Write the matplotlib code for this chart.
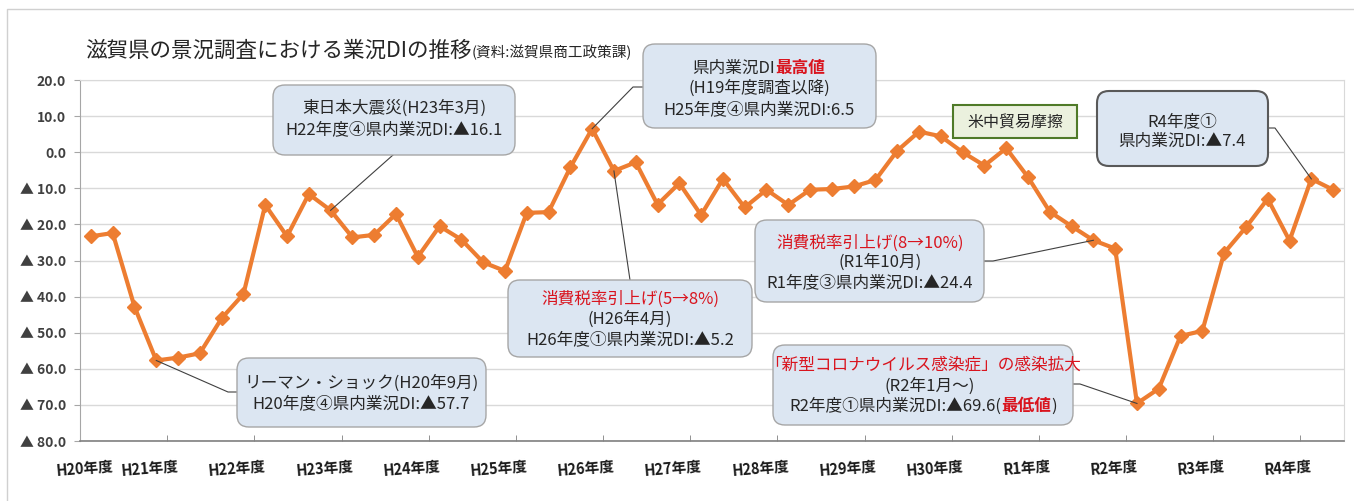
import matplotlib.pyplot as plt
import matplotlib.transforms as mtransforms
from matplotlib.patches import FancyBboxPatch
from matplotlib.lines import Line2D

plt.rcParams['font.family'] = ['Noto Sans CJK JP', 'DejaVu Sans']

# 業況DI（四半期） H20年度①〜R4年度②
di = [-23.3, -22.4, -42.8, -57.7,   # H20
      -56.9, -55.7, -46.0, -39.3,   # H21
      -14.6, -23.3, -11.6, -16.1,   # H22
      -23.6, -22.9, -17.1, -29.0,   # H23
      -20.5, -24.2, -30.5, -32.9,   # H24
      -16.8, -16.6, -4.2, 6.5,      # H25
      -5.2, -2.8, -14.5, -8.6,      # H26
      -17.4, -7.4, -15.3, -10.4,    # H27
      -14.6, -10.4, -10.2, -9.5,    # H28
      -7.7, 0.4, 5.7, 4.4,          # H29
      0.0, -3.7, 1.1, -6.9,         # H30
      -16.5, -20.5, -24.4, -26.7,   # R1
      -69.6, -65.5, -50.9, -49.5,   # R2
      -27.9, -20.8, -12.9, -24.5,   # R3
      -7.4, -10.4]                  # R4

years = ['H20年度', 'H21年度', 'H22年度', 'H23年度', 'H24年度', 'H25年度',
         'H26年度', 'H27年度', 'H28年度', 'H29年度', 'H30年度',
         'R1年度', 'R2年度', 'R3年度', 'R4年度']
yticks = [20, 10, 0, -10, -20, -30, -40, -50, -60, -70, -80]
ytick_labels = ['20.0', '10.0', '0.0', '▲ 10.0', '▲ 20.0', '▲ 30.0', '▲ 40.0',
                '▲ 50.0', '▲ 60.0', '▲ 70.0', '▲ 80.0']

W, H = 1354, 501
fig = plt.figure(figsize=(W / 100, H / 100), dpi=100)
px = mtransforms.Affine2D().scale(1 / fig.dpi) + fig.dpi_scale_trans
renderer = fig.canvas.get_renderer()

BLACK = '#262626'
RED = '#d9141e'

ax = fig.add_axes([80 / W, 1 - 441 / H, (1344 - 80) / W, (441 - 80) / H])
ax.plot(range(len(di)), di, color='#ED7D31', lw=3, marker='D', ms=7, zorder=3)
ax.set_xlim(-0.5, len(di) - 0.5)
ax.set_ylim(-80, 20)
ax.set_yticks(yticks, ytick_labels)
ax.grid(axis='y', color='#d9d9d9', lw=1)
ax.set_axisbelow(True)
for s in ['top', 'right']:
    ax.spines[s].set_color('#d9d9d9')
ax.spines['left'].set_color('#a6a6a6')
ax.spines['bottom'].set_color('#808080')
ax.spines['bottom'].set_linewidth(1.2)
ax.tick_params(axis='y', direction='out', length=4, color='#a6a6a6', pad=6,
               labelsize=10, labelcolor='#404040')
for lab in ax.get_yticklabels():
    lab.set_fontweight('bold')

label_pos = [1] + list(range(4, len(di), 4))
ax.set_xticks(label_pos, years)
ax.set_xticks([i - 0.5 for i in range(4, len(di), 4)], minor=True)
ax.tick_params(axis='x', which='major', length=0, pad=12, labelsize=10.5, labelcolor='#1a1a1a')
ax.tick_params(axis='x', which='minor', direction='in', length=4, color='#808080')
for lab in ax.get_xticklabels():
    lab.set_rotation(5)
    lab.set_ha('right')
    lab.set_va('top')
    lab.set_rotation_mode('anchor')
    lab.set_fontweight('bold')

# outer frame
fig.add_artist(Line2D([7, 7, W], [0, H - 9, H - 9], transform=px, color='#d0d0d0', lw=1))


def line(x, yc, parts, ha='center'):
    # parts: (text, color, size, weight)
    texts = []
    for s, c, size, wt in parts:
        t = fig.text(0, 0, s, color=c, fontsize=size, fontweight=wt, transform=px,
                     ha='left', va='baseline', zorder=6)
        texts.append(t)
    widths = [t.get_window_extent(renderer).width for t in texts]
    big = max(p[2] for p in parts) * fig.dpi / 72
    yb = H - (yc + 0.37 * big)
    x0 = x - sum(widths) / 2 if ha == 'center' else x
    for t, w in zip(texts, widths):
        t.set_position((x0, yb))
        x0 += w


def box(x0, y0, x1, y1, fc='#dce6f2', ec='#a6a6a6', lw=1, rounded=True):
    style = 'round,pad=0,rounding_size=12' if rounded else 'square,pad=0'
    fig.add_artist(FancyBboxPatch((x0, H - y1), x1 - x0, y1 - y0, boxstyle=style,
                                  transform=px, fc=fc, ec=ec, lw=lw, zorder=5))


def leader(pts, idx):
    xd, yd = ax.transData.transform((idx, di[idx]))
    xs = [p[0] for p in pts] + [xd]
    ys = [H - p[1] for p in pts] + [yd]
    fig.add_artist(Line2D(xs, ys, transform=px, color='#404040', lw=0.8, zorder=4))


# title
line(85, 49, [('滋賀県の景況調査における業況DIの推移', BLACK, 15.5, 'normal'),
              ('(資料:滋賀県商工政策課)', BLACK, 10.5, 'normal')], ha='left')

F = 12
# 東日本大震災
box(273, 85, 515, 155)
line(394, 107, [('東日本大震災(H23年3月)', BLACK, F, 'normal')])
line(394, 128, [('H22年度④県内業況DI:▲16.1', BLACK, F, 'normal')])
leader([(393, 155)], 11)

# 最高値
box(643, 44, 876, 128)
line(759, 67, [('県内業況DI', BLACK, F, 'normal'), ('最高値', RED, F, 'bold')])
line(759, 87, [('(H19年度調査以降)', BLACK, F, 'normal')])
line(759, 108, [('H25年度④県内業況DI:6.5', BLACK, F, 'normal')])
leader([(643, 87), (633, 87)], 23)

# 消費税 5→8%
box(508, 280, 752, 357)
line(630, 298, [('消費税率引上げ(5→8%)', RED, F, 'normal')])
line(630, 318, [('(H26年4月)', BLACK, F, 'normal')])
line(630, 338, [('H26年度①県内業況DI:▲5.2', BLACK, F, 'normal')])
leader([(630, 280)], 24)

# リーマン・ショック
box(237, 358, 486, 427)
line(361, 382, [('リーマン・ショック(H20年9月)', BLACK, F, 'normal')])
line(361, 402, [('H20年度④県内業況DI:▲57.7', BLACK, F, 'normal')])
leader([(237, 392), (228, 392)], 3)

# 消費税 8→10%
box(755, 220, 984, 302)
line(870, 242, [('消費税率引上げ(8→10%)', RED, F, 'normal')])
line(880, 261, [('(R1年10月)', BLACK, F, 'normal')])
line(870, 281, [('R1年度③県内業況DI:▲24.4', BLACK, F, 'normal')])
leader([(984, 261), (993, 261)], 46)

# 新型コロナ
box(773, 345, 1073, 425)
line(923, 363, [('「新型コロナウイルス感染症」の感染拡大', RED, F, 'normal')])
line(930, 385, [('(R2年1月～)', BLACK, F, 'normal')])
line(923, 405, [('R2年度①県内業況DI:▲69.6(', BLACK, F, 'normal'),
                ('最低値', RED, F, 'bold'), (')', BLACK, F, 'normal')])
leader([(1073, 384), (1080, 384)], 48)

# 米中貿易摩擦
box(953, 105, 1077, 138, fc='#ebf1de', ec='#4f7a28', lw=1.5, rounded=False)
line(1015, 122, [('米中貿易摩擦', BLACK, 11.5, 'normal')])

# R4年度①
box(1097, 91, 1268, 166, ec='#595959', lw=1.5)
line(1182, 120, [('R4年度①', BLACK, F, 'normal')])
line(1182, 140, [('県内業況DI:▲7.4', BLACK, F, 'normal')])
leader([(1268, 128), (1275, 128)], 56)

fig.savefig('out.png', dpi=100)
